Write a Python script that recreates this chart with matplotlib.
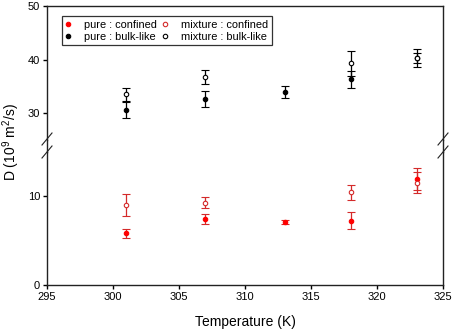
import matplotlib
matplotlib.use("Agg")
import matplotlib.pyplot as plt
from matplotlib.lines import Line2D

plt.rcParams['font.family'] = ['Liberation Sans', 'DejaVu Sans']
plt.rcParams['mathtext.fontset'] = 'custom'
plt.rcParams['mathtext.rm'] = 'Liberation Sans'
plt.rcParams['mathtext.it'] = 'Liberation Sans:italic'

# data
temps_pure = [301, 307, 313, 318, 323]
temps_mix = [301, 307, 318, 323]

pure_confined = [5.8, 7.4, 7.1, 7.2, 11.9]
pure_confined_err = [0.5, 0.6, 0.25, 0.95, 1.2]
mix_confined = [9.0, 9.25, 10.4, 11.5]
mix_confined_err = [1.25, 0.65, 0.85, 1.2]

pure_bulk = [30.6, 32.6, 33.9, 36.3, 40.3]
pure_bulk_err = [1.5, 1.5, 1.15, 1.6, 1.0]
mix_bulk = [33.5, 36.8, 39.3, 40.3]
mix_bulk_err = [1.2, 1.3, 2.3, 1.7]

x_ticks = [295, 300, 305, 310, 315, 320, 325]
low_ticks = [0, 10]
high_ticks = [30, 40, 50]

W, H = 454, 332
fig = plt.figure(figsize=(W / 100, H / 100), dpi=100)

left, right = 47 / W, 443 / W
ax_lo = fig.add_axes([left, 1 - 285 / H, right - left, (285 - 151.5) / H])
ax_hi = fig.add_axes([left, 1 - 140 / H, right - left, (140 - 6) / H])

red = '#ff0000'
red_bar = '#d42a2a'
ms = 3.2
cap = 2.8

def draw(ax, xs, ys, err, fc, ec, bar):
    ax.errorbar(xs, ys, yerr=err, fmt='o', ms=ms, mfc=fc, mec=ec, mew=0.8,
                ecolor=bar, elinewidth=0.9, capsize=cap, capthick=0.9, zorder=3)

draw(ax_lo, temps_pure, pure_confined, pure_confined_err, red, red, red_bar)
draw(ax_lo, temps_mix, mix_confined, mix_confined_err, 'white', red_bar, red_bar)
draw(ax_hi, temps_pure, pure_bulk, pure_bulk_err, 'black', 'black', 'black')
draw(ax_hi, temps_mix, mix_bulk, mix_bulk_err, 'white', 'black', 'black')

for ax in (ax_lo, ax_hi):
    ax.set_xlim(295, 325)
    for s in ax.spines.values():
        s.set_linewidth(1.0)
        s.set_color('#222222')
    ax.tick_params(direction='out', length=3, width=1.0, labelsize=8, pad=2)

ax_lo.set_ylim(0, 15)
ax_lo.set_yticks(low_ticks)
ax_lo.set_xticks(x_ticks)
ax_lo.spines['top'].set_visible(False)

ax_hi.set_ylim(25, 50)
ax_hi.set_yticks(high_ticks)
ax_hi.set_xticks([])
ax_hi.spines['bottom'].set_visible(False)

# continuous side lines through the gap
for xf in (left, right):
    fig.add_artist(Line2D([xf, xf], [1 - 151.5 / H, 1 - 140 / H], color='#222222', lw=1.0))

# break marks
for xp in (47, 443):
    for yp in (139, 152):
        fig.add_artist(Line2D([(xp - 5) / W, (xp + 5) / W],
                              [1 - (yp + 6) / H, 1 - (yp - 6) / H],
                              color='#222222', lw=0.8))

def mk(fc, ec):
    return Line2D([], [], ls='none', marker='o', ms=ms, mfc=fc, mec=ec, mew=0.8)

handles = [mk(red, red), mk('black', 'black'), mk('white', red_bar), mk('white', 'black')]
labels = ['pure : confined', 'pure : bulk-like', 'mixture : confined', 'mixture : bulk-like']
leg = ax_hi.legend(handles, labels, ncol=2, loc='upper left', bbox_to_anchor=(0.037, 0.925),
                   fontsize=7.9, frameon=True, fancybox=False, borderpad=0.35,
                   handlelength=0.4, handletextpad=1.3, columnspacing=0.5,
                   labelspacing=0.15, borderaxespad=0)
leg.get_frame().set_edgecolor('black')
leg.get_frame().set_linewidth(0.9)

fig.text(245 / W, 1 - 322 / H, 'Temperature (K)', ha='center', va='center', fontsize=10)
fig.text(11 / W, 1 - 142 / H, 'D (10$^9$ m$^2$/s)', ha='center', va='center',
         rotation=90, fontsize=10)

fig.savefig('out.png', dpi=100)
